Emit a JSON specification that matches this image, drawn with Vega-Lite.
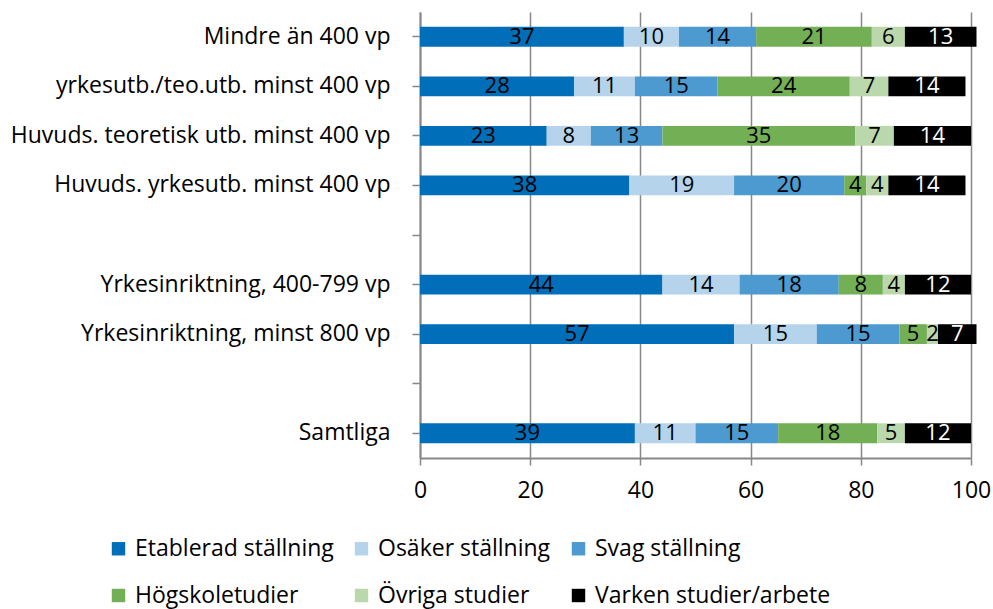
{
  "$schema": "https://vega.github.io/schema/vega-lite/v6.json",
  "autosize": {"type": "none"},
  "padding": {"left": 420, "top": 12, "right": 22, "bottom": 151},
  "width": 551,
  "height": 446,
  "background": "white",
  "config": {
    "font": "Open Sans",
    "view": {"stroke": null}
  },
  "data": {
    "values": [
      {"cat": "Mindre än 400 vp", "status": "Etablerad ställning", "idx": 1, "value": 37},
      {"cat": "Mindre än 400 vp", "status": "Osäker ställning", "idx": 2, "value": 10},
      {"cat": "Mindre än 400 vp", "status": "Svag ställning", "idx": 3, "value": 14},
      {"cat": "Mindre än 400 vp", "status": "Högskoletudier", "idx": 4, "value": 21},
      {"cat": "Mindre än 400 vp", "status": "Övriga studier", "idx": 5, "value": 6},
      {"cat": "Mindre än 400 vp", "status": "Varken studier/arbete", "idx": 6, "value": 13},
      {"cat": "yrkesutb./teo.utb. minst 400 vp", "status": "Etablerad ställning", "idx": 1, "value": 28},
      {"cat": "yrkesutb./teo.utb. minst 400 vp", "status": "Osäker ställning", "idx": 2, "value": 11},
      {"cat": "yrkesutb./teo.utb. minst 400 vp", "status": "Svag ställning", "idx": 3, "value": 15},
      {"cat": "yrkesutb./teo.utb. minst 400 vp", "status": "Högskoletudier", "idx": 4, "value": 24},
      {"cat": "yrkesutb./teo.utb. minst 400 vp", "status": "Övriga studier", "idx": 5, "value": 7},
      {"cat": "yrkesutb./teo.utb. minst 400 vp", "status": "Varken studier/arbete", "idx": 6, "value": 14},
      {"cat": "Huvuds. teoretisk utb. minst 400 vp", "status": "Etablerad ställning", "idx": 1, "value": 23},
      {"cat": "Huvuds. teoretisk utb. minst 400 vp", "status": "Osäker ställning", "idx": 2, "value": 8},
      {"cat": "Huvuds. teoretisk utb. minst 400 vp", "status": "Svag ställning", "idx": 3, "value": 13},
      {"cat": "Huvuds. teoretisk utb. minst 400 vp", "status": "Högskoletudier", "idx": 4, "value": 35},
      {"cat": "Huvuds. teoretisk utb. minst 400 vp", "status": "Övriga studier", "idx": 5, "value": 7},
      {"cat": "Huvuds. teoretisk utb. minst 400 vp", "status": "Varken studier/arbete", "idx": 6, "value": 14},
      {"cat": "Huvuds. yrkesutb. minst 400 vp", "status": "Etablerad ställning", "idx": 1, "value": 38},
      {"cat": "Huvuds. yrkesutb. minst 400 vp", "status": "Osäker ställning", "idx": 2, "value": 19},
      {"cat": "Huvuds. yrkesutb. minst 400 vp", "status": "Svag ställning", "idx": 3, "value": 20},
      {"cat": "Huvuds. yrkesutb. minst 400 vp", "status": "Högskoletudier", "idx": 4, "value": 4},
      {"cat": "Huvuds. yrkesutb. minst 400 vp", "status": "Övriga studier", "idx": 5, "value": 4},
      {"cat": "Huvuds. yrkesutb. minst 400 vp", "status": "Varken studier/arbete", "idx": 6, "value": 14},
      {"cat": "Yrkesinriktning, 400-799 vp", "status": "Etablerad ställning", "idx": 1, "value": 44},
      {"cat": "Yrkesinriktning, 400-799 vp", "status": "Osäker ställning", "idx": 2, "value": 14},
      {"cat": "Yrkesinriktning, 400-799 vp", "status": "Svag ställning", "idx": 3, "value": 18},
      {"cat": "Yrkesinriktning, 400-799 vp", "status": "Högskoletudier", "idx": 4, "value": 8},
      {"cat": "Yrkesinriktning, 400-799 vp", "status": "Övriga studier", "idx": 5, "value": 4},
      {"cat": "Yrkesinriktning, 400-799 vp", "status": "Varken studier/arbete", "idx": 6, "value": 12},
      {"cat": "Yrkesinriktning, minst 800 vp", "status": "Etablerad ställning", "idx": 1, "value": 57},
      {"cat": "Yrkesinriktning, minst 800 vp", "status": "Osäker ställning", "idx": 2, "value": 15},
      {"cat": "Yrkesinriktning, minst 800 vp", "status": "Svag ställning", "idx": 3, "value": 15},
      {"cat": "Yrkesinriktning, minst 800 vp", "status": "Högskoletudier", "idx": 4, "value": 5},
      {"cat": "Yrkesinriktning, minst 800 vp", "status": "Övriga studier", "idx": 5, "value": 2},
      {"cat": "Yrkesinriktning, minst 800 vp", "status": "Varken studier/arbete", "idx": 6, "value": 7},
      {"cat": "Samtliga", "status": "Etablerad ställning", "idx": 1, "value": 39},
      {"cat": "Samtliga", "status": "Osäker ställning", "idx": 2, "value": 11},
      {"cat": "Samtliga", "status": "Svag ställning", "idx": 3, "value": 15},
      {"cat": "Samtliga", "status": "Högskoletudier", "idx": 4, "value": 18},
      {"cat": "Samtliga", "status": "Övriga studier", "idx": 5, "value": 5},
      {"cat": "Samtliga", "status": "Varken studier/arbete", "idx": 6, "value": 12}
    ]
  },
  "transform": [
    {"stack": "value", "groupby": ["cat"], "sort": [{"field": "idx", "order": "ascending"}], "as": ["x0", "x1"]},
    {"calculate": "(datum.x0 + datum.x1) / 2", "as": "xm"}
  ],
  "encoding": {
    "y": {
      "field": "cat",
      "type": "nominal",
      "title": null,
      "scale": {
        "domain": ["Mindre än 400 vp", "yrkesutb./teo.utb. minst 400 vp", "Huvuds. teoretisk utb. minst 400 vp", "Huvuds. yrkesutb. minst 400 vp", "blank1", "Yrkesinriktning, 400-799 vp", "Yrkesinriktning, minst 800 vp", "blank2", "Samtliga"],
        "paddingInner": 0.6,
        "paddingOuter": 0.3
      },
      "axis": {
        "labelExpr": "indexof(datum.value, 'blank') == 0 ? '' : datum.value",
        "tickSize": 8,
        "tickColor": "#878787",
        "tickWidth": 1.5,
        "domainColor": "#878787",
        "domainWidth": 2,
        "labelFontSize": 23,
        "labelColor": "#000000",
        "labelPadding": 22,
        "labelLimit": 500,
        "grid": false
      }
    }
  },
  "layer": [
    {
      "mark": {"type": "bar"},
      "encoding": {
        "x": {
          "field": "x0",
          "type": "quantitative",
          "title": null,
          "scale": {"domain": [0, 100], "nice": false},
          "axis": {
            "values": [0, 20, 40, 60, 80, 100],
            "grid": true,
            "gridColor": "#878787",
            "gridWidth": 1.5,
            "tickSize": 7,
            "tickColor": "#878787",
            "tickWidth": 1.5,
            "domainColor": "#878787",
            "domainWidth": 2,
            "labelFontSize": 23,
            "labelColor": "#000000",
            "labelPadding": 14,
            "labelFlush": false
          }
        },
        "x2": {"field": "x1"},
        "color": {
          "field": "status",
          "type": "nominal",
          "title": null,
          "scale": {
            "domain": ["Etablerad ställning", "Osäker ställning", "Svag ställning", "Högskoletudier", "Övriga studier", "Varken studier/arbete"],
            "range": ["#006EB8", "#B5D4EC", "#4C9ACF", "#73AF54", "#BBD8AD", "#000000"]
          },
          "legend": {
            "orient": "none",
            "legendX": -313,
            "legendY": 525,
            "direction": "horizontal",
            "columns": 3,
            "columnPadding": 16,
            "rowPadding": 23,
            "symbolType": "square",
            "symbolSize": 180,
            "symbolStrokeWidth": 0,
            "labelFontSize": 23,
            "labelColor": "#000000",
            "labelOffset": 5,
            "labelLimit": 400
          }
        }
      }
    },
    {
      "mark": {"type": "text", "fontSize": 22, "baseline": "middle", "align": "center"},
      "encoding": {
        "x": {"field": "xm", "type": "quantitative"},
        "text": {"field": "value", "type": "quantitative"},
        "color": {
          "condition": {"test": "datum.status === 'Varken studier/arbete'", "value": "#ffffff"},
          "value": "#000000"
        }
      }
    }
  ]
}
